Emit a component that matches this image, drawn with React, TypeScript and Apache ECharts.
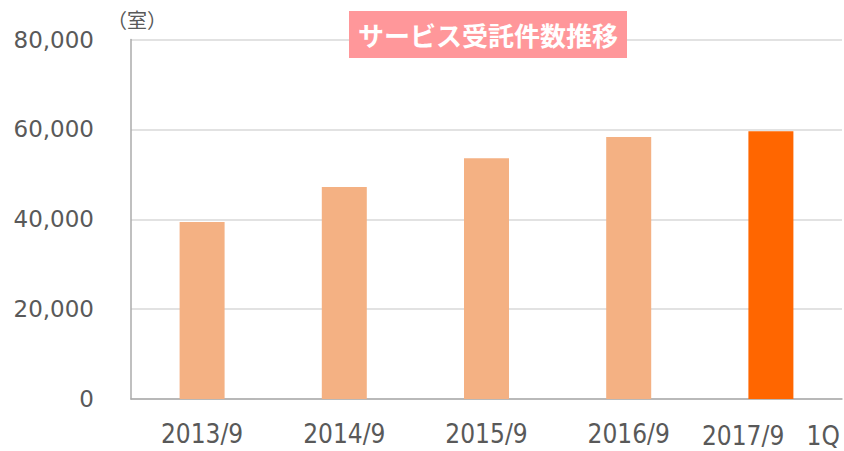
import React, { useEffect, useRef } from "react";
import * as echarts from "echarts";

const categories = ["2013/9", "2014/9", "2015/9", "2016/9", "2017/9   1Q"];
const values = [39400, 47200, 53600, 58300, 59600];
const barColors = ["#F4B183", "#F4B183", "#F4B183", "#F4B183", "#FF6600"];
const titleText = "サービス受託件数推移";
const unitText = "（室）";

export default function App() {
  const ref = useRef<HTMLDivElement>(null);
  useEffect(() => {
    const chart = echarts.init(ref.current!, null, { renderer: "svg" });
    chart.setOption({
      animation: false,
      backgroundColor: "#ffffff",
      title: {
        text: titleText,
        left: 349,
        top: 11,
        backgroundColor: "#FF979A",
        padding: [8, 9, 8, 9],
        textStyle: {
          color: "#ffffff",
          fontSize: 26,
          fontWeight: "bold",
          fontFamily: "Noto Sans CJK JP",
          lineHeight: 31,
        },
      },
      graphic: [
        {
          type: "text",
          left: 107,
          top: 9,
          style: {
            text: unitText,
            fill: "#595959",
            fontSize: 20,
            fontFamily: "Noto Sans CJK JP",
          },
        },
      ],
      grid: {
        left: 131,
        right: 2,
        top: 39.5,
        bottom: 52,
        containLabel: false,
        outerBoundsMode: "none",
      },
      xAxis: {
        type: "category",
        data: categories,
        axisLine: { lineStyle: { color: "#ABABAB", width: 1.5 } },
        axisTick: { show: false },
        axisLabel: {
          interval: 0,
          margin: 22,
          color: "#595959",
          fontSize: 26,
          lineHeight: 26,
          fontFamily: "DejaVu Sans Condensed",
          formatter: (v: string, i: number) => (i === categories.length - 1 ? "{b|" + v + "}" : v),
          rich: {
            b: {
              color: "#595959",
              fontSize: 26,
              lineHeight: 26,
              fontFamily: "DejaVu Sans Condensed",
              padding: [4, 0, 0, 0],
            },
          },
        },
      },
      yAxis: {
        type: "value",
        min: 0,
        max: 80000,
        interval: 20000,
        axisLine: { show: true, lineStyle: { color: "#ABABAB", width: 1.5 } },
        axisTick: { show: false },
        splitLine: { lineStyle: { color: "#D9D9D9", width: 1.5 } },
        axisLabel: {
          margin: 37,
          color: "#595959",
          fontSize: 23,
          fontFamily: "DejaVu Sans",
          formatter: (v: number) => v.toLocaleString("en-US"),
        },
      },
      series: [
        {
          type: "bar",
          barWidth: 45,
          data: values.map((v, i) => ({ value: v, itemStyle: { color: barColors[i] } })),
        },
      ],
    });
    return () => chart.dispose();
  }, []);
  return (
    <div
      ref={ref}
      style={{ position: "absolute", left: 0, top: 0, width: 844, height: 451 }}
    />
  );
}
